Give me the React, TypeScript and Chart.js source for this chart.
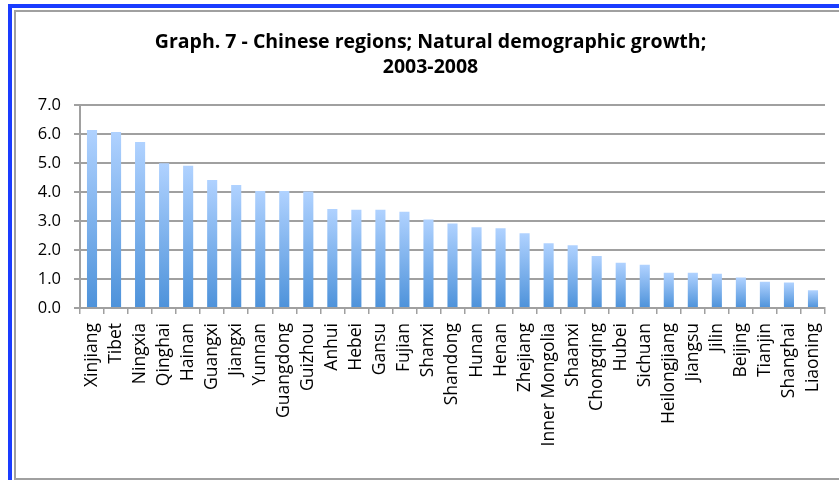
import React, { useEffect, useRef } from "react";
import { Chart, registerables } from "chart.js";

Chart.register(...registerables);

const regions = [
  "Xinjiang", "Tibet", "Ningxia", "Qinghai", "Hainan", "Guangxi", "Jiangxi", "Yunnan",
  "Guangdong", "Guizhou", "Anhui", "Hebei", "Gansu", "Fujian", "Shanxi", "Shandong",
  "Hunan", "Henan", "Zhejiang", "Inner Mongolia", "Shaanxi", "Chongqing", "Hubei",
  "Sichuan", "Heilongjiang", "Jiangsu", "Jilin", "Beijing", "Tianjin", "Shanghai", "Liaoning",
];

const growth = [
  6.15, 6.08, 5.73, 5.0, 4.91, 4.42, 4.25, 4.04,
  4.04, 4.02, 3.42, 3.39, 3.39, 3.32, 3.06, 2.92,
  2.79, 2.75, 2.58, 2.24, 2.17, 1.8, 1.56,
  1.49, 1.22, 1.22, 1.18, 1.05, 0.91, 0.88, 0.61,
];

const titleLines = ["Graph. 7 - Chinese regions; Natural demographic growth;", "2003-2008"];

const FONT = "'Open Sans', 'Liberation Sans', sans-serif";

export default function App() {
  const ref = useRef<HTMLCanvasElement | null>(null);

  useEffect(() => {
    if (!ref.current) return;
    const chart = new Chart(ref.current, {
      type: "bar",
      data: {
        labels: regions,
        datasets: [
          {
            data: growth,
            backgroundColor: (ctx: any) => {
              const c = ctx.chart;
              const ys = c.scales?.y;
              if (!ys || ctx.type !== "data") return "#7fb0ee";
              const top = ys.getPixelForValue(ctx.parsed?.y ?? growth[ctx.dataIndex]);
              const bottom = ys.getPixelForValue(0);
              if (!isFinite(top) || !isFinite(bottom) || top === bottom) return "#7fb0ee";
              const g = c.ctx.createLinearGradient(0, top, 0, bottom);
              g.addColorStop(0, "#b0d2ff");
              g.addColorStop(1, "#4d92da");
              return g;
            },
            borderWidth: 0,
            barPercentage: 0.42,
            categoryPercentage: 1,
          },
        ],
      },
      options: {
        responsive: false,
        animation: false,
        layout: { padding: { top: 30, left: 36, right: 14, bottom: 0 } },
        plugins: {
          legend: { display: false },
          tooltip: { enabled: false },
          title: {
            display: true,
            text: titleLines,
            color: "#000",
            font: { family: FONT, size: 19.5, weight: "bold", lineHeight: 1.29 },
            padding: { top: 0, bottom: 25 },
          },
        },
        scales: {
          x: {
            grid: {
              drawOnChartArea: false,
              drawTicks: true,
              tickLength: 6,
              color: "#a0a0a0",
              lineWidth: 1.5,
              offset: true,
            },
            border: { color: "#a0a0a0", width: 2 },
            ticks: {
              color: "#000",
              font: { family: FONT, size: 17.5 },
              minRotation: 90,
              maxRotation: 90,
              autoSkip: false,
              padding: 9,
            },
            afterFit: (s: any) => {
              s.height = 172;
              s.paddingLeft = 0;
              s.paddingRight = 0;
            },
          },
          y: {
            min: 0,
            max: 7,
            grid: { color: "#a0a0a0", lineWidth: 2, tickLength: 6 },
            border: { color: "#a0a0a0", width: 2 },
            ticks: {
              stepSize: 1,
              color: "#000",
              font: { family: FONT, size: 16.5 },
              padding: 13,
              callback: (v: any) => Number(v).toFixed(1),
            },
            afterFit: (s: any) => {
              s.width = 44;
            },
          },
        },
      },
    });
    return () => chart.destroy();
  }, []);

  return (
    <div style={{ position: "absolute", left: 0, top: 0, width: 839, height: 480, background: "#fff", overflow: "hidden" }}>
      <div style={{ position: "absolute", left: 8, top: 4, width: 900, height: 4, background: "#1a3cff" }} />
      <div style={{ position: "absolute", left: 8, top: 4, width: 4, height: 500, background: "#1a3cff" }} />
      <div
        style={{
          position: "absolute",
          left: 14,
          top: 10,
          width: 900,
          height: 466,
          borderTop: "2px solid #a0a0a0",
          borderLeft: "2px solid #a0a0a0",
          borderBottom: "2px solid #a0a0a0",
        }}
      />
      <canvas ref={ref} width={839} height={480} style={{ position: "absolute", left: 0, top: 0 }} />
    </div>
  );
}
